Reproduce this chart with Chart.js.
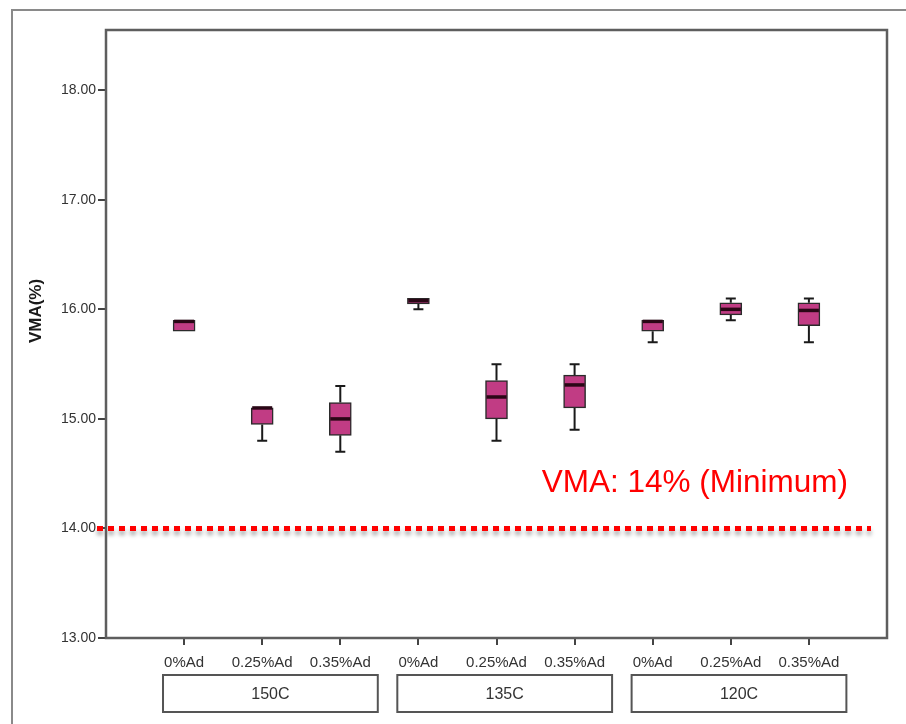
<!DOCTYPE html>
<html>
<head>
<meta charset="utf-8">
<script src="https://cdn.jsdelivr.net/npm/chart.js@4.4.1/dist/chart.umd.min.js"></script>
<style>
  html, body { margin: 0; padding: 0; background: #ffffff; }
  #wrap { position: relative; width: 906px; height: 724px; }
  canvas { display: block; }
</style>
</head>
<body>
<div id="wrap"><canvas id="c" width="906" height="724"></canvas></div>
<script>
// Additive dosage within each mixing temperature
const categories = ['0%Ad', '0.25%Ad', '0.35%Ad', '0%Ad', '0.25%Ad', '0.35%Ad', '0%Ad', '0.25%Ad', '0.35%Ad'];
const temperatureGroups = ['150C', '135C', '120C'];
const groupSize = 3;

// Five-number summaries of VMA (%)
const vmaMin    = [15.80, 14.80, 14.70, 16.00, 14.80, 14.90, 15.70, 15.90, 15.70];
const vmaQ1     = [15.80, 14.95, 14.85, 16.05, 15.00, 15.10, 15.80, 15.95, 15.85];
const vmaMedian = [15.89, 15.10, 15.00, 16.08, 15.20, 15.31, 15.89, 16.00, 15.99];
const vmaQ3     = [15.90, 15.10, 15.15, 16.10, 15.35, 15.40, 15.90, 16.06, 16.06];
const vmaMax    = [15.90, 15.10, 15.30, 16.10, 15.50, 15.50, 15.90, 16.10, 16.10];

// Axis ticks and the specification limit
const yTicks = [13, 14, 15, 16, 17, 18];
const vmaMinimum = 14;
const vmaMinimumLabel = 'VMA: 14% (Minimum)';

// Category axis with an empty slot at each end
const xLabels = [''].concat(categories, ['']);
const boxData = [null].concat(categories.map((_, i) => [vmaQ1[i], vmaQ3[i]]), [null]);

const FONT = '"Liberation Sans", Arial, sans-serif';

const boxPlotParts = {
  id: 'boxPlotParts',
  beforeDatasetsDraw(chart) {
    const { ctx, scales: { x, y } } = chart;
    ctx.save();
    ctx.strokeStyle = '#1a1a1a';
    ctx.lineWidth = 2;
    const cap = 5;
    categories.forEach((_, i) => {
      const px = x.getPixelForValue(i + 1);
      const pMin = y.getPixelForValue(vmaMin[i]);
      const pQ1 = y.getPixelForValue(vmaQ1[i]);
      const pQ3 = y.getPixelForValue(vmaQ3[i]);
      const pMax = y.getPixelForValue(vmaMax[i]);
      ctx.beginPath();
      if (vmaMin[i] < vmaQ1[i]) {
        ctx.moveTo(px, pQ1); ctx.lineTo(px, pMin);
        ctx.moveTo(px - cap, pMin); ctx.lineTo(px + cap, pMin);
      }
      if (vmaMax[i] > vmaQ3[i]) {
        ctx.moveTo(px, pQ3); ctx.lineTo(px, pMax);
        ctx.moveTo(px - cap, pMax); ctx.lineTo(px + cap, pMax);
      }
      ctx.stroke();
    });
    ctx.restore();
  },
  afterDatasetsDraw(chart) {
    const { ctx, scales: { x, y } } = chart;
    const meta = chart.getDatasetMeta(0);
    ctx.save();
    ctx.strokeStyle = '#2a0716';
    ctx.lineWidth = 3.5;
    categories.forEach((_, i) => {
      const bar = meta.data[i + 1];
      const half = bar.width / 2;
      const py = y.getPixelForValue(vmaMedian[i]);
      ctx.beginPath();
      ctx.moveTo(bar.x - half + 1, py);
      ctx.lineTo(bar.x + half - 1, py);
      ctx.stroke();
    });

    // Minimum VMA requirement
    const ly = y.getPixelForValue(vmaMinimum);
    const area = chart.chartArea;
    ctx.save();
    ctx.strokeStyle = '#ff0000';
    ctx.lineWidth = 5;
    ctx.setLineDash([6, 5]);
    ctx.shadowColor = 'rgba(0,0,0,0.35)';
    ctx.shadowBlur = 4;
    ctx.shadowOffsetY = 4;
    ctx.beginPath();
    ctx.moveTo(area.left - 9, ly);
    ctx.lineTo(area.right - 16, ly);
    ctx.stroke();
    ctx.restore();

    ctx.fillStyle = '#ff0000';
    ctx.font = '31.5px ' + FONT;
    ctx.textAlign = 'right';
    ctx.textBaseline = 'alphabetic';
    ctx.fillText(vmaMinimumLabel, area.right - 39, ly - 36);
    ctx.restore();
  }
};

const frameAndGroups = {
  id: 'frameAndGroups',
  beforeDraw(chart) {
    const { ctx } = chart;
    ctx.save();
    ctx.fillStyle = '#ffffff';
    ctx.fillRect(0, 0, chart.width, chart.height);
    // outer panel edge
    ctx.strokeStyle = '#8a8a8a';
    ctx.lineWidth = 2;
    ctx.beginPath();
    ctx.moveTo(12, chart.height);
    ctx.lineTo(12, 10);
    ctx.lineTo(chart.width, 10);
    ctx.stroke();
    ctx.restore();
  },
  afterDraw(chart) {
    const { ctx, scales: { x } } = chart;
    const area = chart.chartArea;
    ctx.save();
    // plot frame
    ctx.strokeStyle = '#5e5e5e';
    ctx.lineWidth = 2.5;
    ctx.strokeRect(area.left, area.top, area.right - area.left, area.bottom - area.top);

    // temperature group boxes under the dosage labels
    const step = x.getPixelForValue(2) - x.getPixelForValue(1);
    ctx.lineWidth = 2;
    ctx.strokeStyle = '#555555';
    ctx.fillStyle = '#333333';
    ctx.font = '16px ' + FONT;
    ctx.textAlign = 'center';
    ctx.textBaseline = 'middle';
    temperatureGroups.forEach((g, k) => {
      const first = x.getPixelForValue(k * groupSize + 1);
      const last = x.getPixelForValue(k * groupSize + groupSize);
      const left = first - 0.27 * step;
      const right = last + 0.48 * step;
      const top = area.bottom + 37;
      const h = 37;
      ctx.strokeRect(left, top, right - left, h);
      ctx.fillText(g, (left + right) / 2, top + h / 2 + 1);
    });

    // y-axis title
    ctx.translate(36, area.top + 281);
    ctx.rotate(-Math.PI / 2);
    ctx.font = 'bold 17px ' + FONT;
    ctx.fillStyle = '#1a1a1a';
    ctx.fillText('VMA(%)', 0, 0);
    ctx.restore();
  }
};

new Chart(document.getElementById('c'), {
  type: 'bar',
  data: {
    labels: xLabels,
    datasets: [{
      data: boxData,
      backgroundColor: '#c13c84',
      borderColor: '#2b2b2b',
      borderWidth: 1.5,
      borderSkipped: false,
      barThickness: 22
    }]
  },
  options: {
    responsive: false,
    animation: false,
    layout: { padding: { left: 0, top: 30, right: 19, bottom: 0 } },
    plugins: { legend: { display: false }, tooltip: { enabled: false } },
    scales: {
      x: {
        type: 'category',
        offset: false,
        border: { display: false },
        grid: {
          display: true,
          offset: false,
          drawOnChartArea: false,
          drawTicks: true,
          tickLength: 7,
          lineWidth: 2,
          tickColor: (ctx) => (ctx.index === 0 || ctx.index === xLabels.length - 1) ? 'rgba(0,0,0,0)' : '#444444'
        },
        ticks: {
          autoSkip: false,
          maxRotation: 0,
          minRotation: 0,
          padding: 9,
          color: '#333333',
          font: { family: FONT, size: 15 }
        },
        afterFit(scale) { scale.height = 86; }
      },
      y: {
        type: 'linear',
        min: 13,
        max: 18.55,
        border: { display: false },
        grid: {
          display: true,
          drawOnChartArea: false,
          drawTicks: true,
          tickLength: 8,
          lineWidth: 2,
          tickColor: '#444444'
        },
        ticks: {
          padding: 2,
          color: '#333333',
          font: { family: FONT, size: 14 },
          callback: (v) => Number(v).toFixed(2)
        },
        afterBuildTicks(scale) { scale.ticks = yTicks.map(v => ({ value: v })); },
        afterFit(scale) { scale.width = 106; }
      }
    }
  },
  plugins: [frameAndGroups, boxPlotParts]
});
</script>
</body>
</html>
